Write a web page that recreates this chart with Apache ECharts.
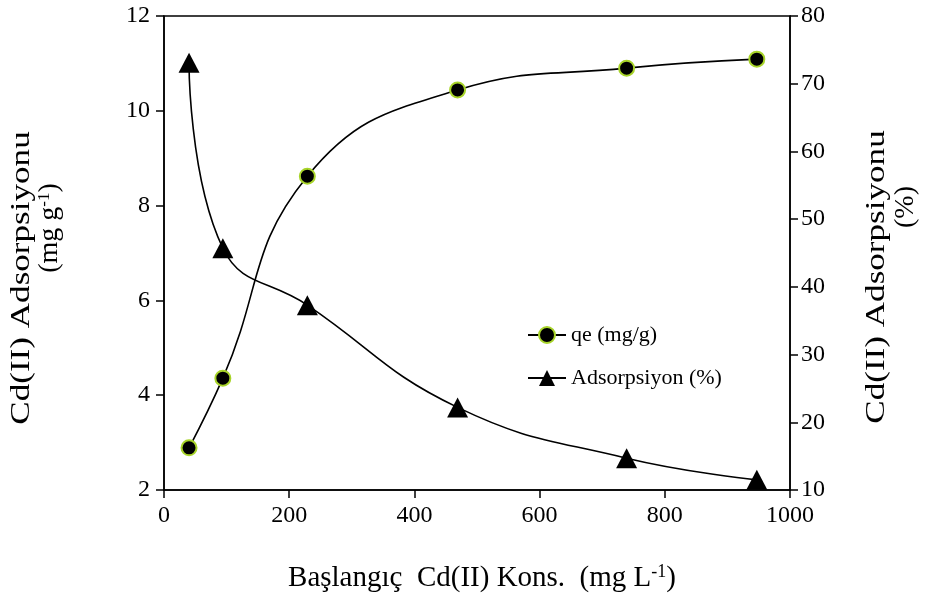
<!DOCTYPE html>
<html>
<head>
<meta charset="utf-8">
<script src="https://cdn.jsdelivr.net/npm/echarts@6/dist/echarts.min.js"></script>
<style>
  html, body { margin: 0; padding: 0; background: #fff; }
  #main { width: 926px; height: 599px; }
</style>
</head>
<body>
<div id="main"></div>
<script>
// başlangıç konsantrasyonu (mg/L)
var konsantrasyon = [40, 94, 229, 469, 739, 947];
// qe (mg/g)
var qeDegerleri = [2.89, 4.36, 8.62, 10.44, 10.90, 11.09];
// adsorpsiyon yüzdesi (%)
var adsorpsiyonYuzde = [73.1, 45.7, 37.3, 22.2, 14.7, 11.5];

var xTicks = [0, 200, 400, 600, 800, 1000];
var solTicks = [2, 4, 6, 8, 10, 12];
var sagTicks = [10, 20, 30, 40, 50, 60, 70, 80];

var FONT = 'Liberation Serif';

function ciftler(xs, ys) {
    var out = [];
    for (var i = 0; i < xs.length; i++) out.push([xs[i], ys[i]]);
    return out;
}

var axisCommon = {
    axisLine: { show: true, lineStyle: { color: '#000', width: 1.5 } },
    axisTick: { show: true, inside: false, length: 8, lineStyle: { color: '#000', width: 1.5 } },
    splitLine: { show: false },
    axisLabel: {
        color: '#000', fontFamily: FONT, fontSize: 24,
        formatter: function (v) { return String(v); }
    }
};

var chart = echarts.init(document.getElementById('main'));
var option = {
    animation: false,
    backgroundColor: '#fff',
    grid: {
        left: 164, right: 136, top: 16, bottom: 109,
        show: true, borderColor: '#000', borderWidth: 1.5, backgroundColor: 'transparent'
    },
    legend: {
        orient: 'vertical',
        left: 522, top: 319,
        itemGap: 21,
        itemWidth: 38, itemHeight: 20,
        textStyle: { fontFamily: FONT, fontSize: 22, color: '#000' },
        data: ['qe (mg/g)', 'Adsorpsiyon (%)']
    },
    xAxis: Object.assign({}, axisCommon, {
        type: 'value', min: xTicks[0], max: xTicks[xTicks.length - 1], interval: 200,
        axisLabel: Object.assign({}, axisCommon.axisLabel, { margin: 14 })
    }),
    yAxis: [
        Object.assign({}, axisCommon, {
            type: 'value', position: 'left', min: solTicks[0], max: solTicks[solTicks.length - 1], interval: 2,
            axisLabel: Object.assign({}, axisCommon.axisLabel, { margin: 14 })
        }),
        Object.assign({}, axisCommon, {
            type: 'value', position: 'right', min: sagTicks[0], max: sagTicks[sagTicks.length - 1], interval: 10,
            axisLabel: Object.assign({}, axisCommon.axisLabel, { margin: 11 })
        })
    ],
    series: [
        {
            name: 'qe (mg/g)',
            type: 'line',
            yAxisIndex: 0,
            smooth: 0.45,
            data: ciftler(konsantrasyon, qeDegerleri),
            lineStyle: { color: '#000', width: 1.6 },
            symbol: 'circle',
            symbolSize: 15,
            itemStyle: { color: '#000', borderColor: '#a8d42a', borderWidth: 2 },
            z: 3
        },
        {
            name: 'Adsorpsiyon (%)',
            type: 'line',
            yAxisIndex: 1,
            smooth: 0.45,
            data: ciftler(konsantrasyon, adsorpsiyonYuzde),
            lineStyle: { color: '#000', width: 1.6 },
            symbol: 'triangle',
            symbolSize: [21, 20],
            itemStyle: { color: '#000' },
            z: 3
        }
    ],
    graphic: [
        {
            type: 'text', x: 22, y: 278, rotation: Math.PI / 2, scaleX: 1.3,
            style: { text: 'Cd(II) Adsorpsiyonu', font: '27px "' + FONT + '"', fill: '#000', align: 'center', verticalAlign: 'middle' }
        },
        {
            type: 'text', x: 50, y: 228, rotation: Math.PI / 2,
            style: {
                text: '{n|(mg g}{s|-1}{n|)}', align: 'center', verticalAlign: 'middle',
                rich: {
                    n: { fontFamily: FONT, fontSize: 28, fill: '#000' },
                    s: { fontFamily: FONT, fontSize: 17, fill: '#000', verticalAlign: 'top' }
                }
            }
        },
        {
            type: 'text', x: 877, y: 277, rotation: Math.PI / 2, scaleX: 1.3,
            style: { text: 'Cd(II) Adsorpsiyonu', font: '27px "' + FONT + '"', fill: '#000', align: 'center', verticalAlign: 'middle' }
        },
        {
            type: 'text', x: 906, y: 207, rotation: Math.PI / 2,
            style: { text: '(%)', font: '28px "' + FONT + '"', fill: '#000', align: 'center', verticalAlign: 'middle' }
        },
        {
            type: 'text', x: 482, y: 578,
            style: {
                text: '{n|Başlangıç  Cd(II) Kons.  (mg L}{s|-1}{n|)}', align: 'center', verticalAlign: 'middle',
                rich: {
                    n: { fontFamily: FONT, fontSize: 29, fill: '#000' },
                    s: { fontFamily: FONT, fontSize: 18, fill: '#000', verticalAlign: 'top' }
                }
            }
        }
    ]
};
chart.setOption(option);
</script>
</body>
</html>
